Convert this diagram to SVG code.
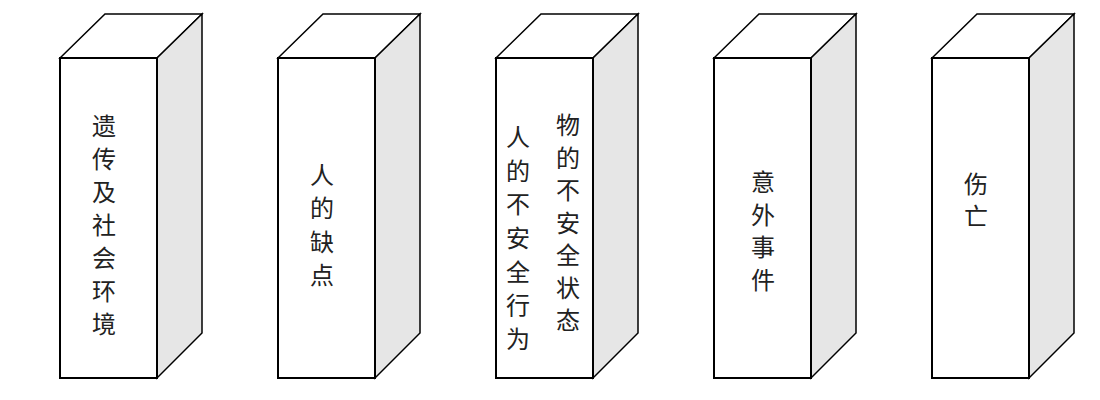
<svg xmlns="http://www.w3.org/2000/svg" width="1100" height="400" viewBox="0 0 1100 400">
<style>
.front{fill:#fff;stroke:#000;stroke-width:2}
.top{fill:#fff;stroke:#000;stroke-width:1.5;stroke-linejoin:miter}
.side{fill:#e6e6e6;stroke:#000;stroke-width:1.5}
.lbl{font-family:"Noto Sans CJK SC","Noto Sans",sans-serif;font-size:24px;fill:#222;text-anchor:middle;dominant-baseline:central}
</style>
<defs>
<g id="box">
<polygon class="top" points="0,58 45,14 142,14 97,58"/>
<polygon class="side" points="97,58 142,14 142,333 97,378"/>
<rect class="front" x="0" y="58" width="97" height="320"/>
</g>
</defs>
<g id="node1">
<use href="#box" x="60" y="0"/>
<text class="lbl"><tspan x="104" y="124">遗</tspan><tspan x="104" y="157">传</tspan><tspan x="104" y="190">及</tspan><tspan x="104" y="223">社</tspan><tspan x="104" y="256">会</tspan><tspan x="104" y="289">环</tspan><tspan x="104" y="322">境</tspan></text>
</g>
<g id="node2">
<use href="#box" x="278" y="0"/>
<text class="lbl"><tspan x="322" y="173">人</tspan><tspan x="322" y="206">的</tspan><tspan x="322" y="240">缺</tspan><tspan x="322" y="273">点</tspan></text>
</g>
<g id="node3">
<use href="#box" x="496" y="0"/>
<text class="lbl"><tspan x="518" y="135">人</tspan><tspan x="518" y="169">的</tspan><tspan x="518" y="202">不</tspan><tspan x="518" y="236">安</tspan><tspan x="518" y="270">全</tspan><tspan x="518" y="303">行</tspan><tspan x="518" y="337">为</tspan></text>
<text class="lbl"><tspan x="568" y="123">物</tspan><tspan x="568" y="155.5">的</tspan><tspan x="568" y="188">不</tspan><tspan x="568" y="220.5">安</tspan><tspan x="568" y="253">全</tspan><tspan x="568" y="285.5">状</tspan><tspan x="568" y="318">态</tspan></text>
</g>
<g id="node4">
<use href="#box" x="714" y="0"/>
<text class="lbl"><tspan x="763" y="180">意</tspan><tspan x="763" y="213">外</tspan><tspan x="763" y="245">事</tspan><tspan x="763" y="278">件</tspan></text>
</g>
<g id="node5">
<use href="#box" x="932" y="0"/>
<text class="lbl"><tspan x="976" y="182">伤</tspan><tspan x="976" y="214">亡</tspan></text>
</g>
<g id="connectors"></g>
</svg>
